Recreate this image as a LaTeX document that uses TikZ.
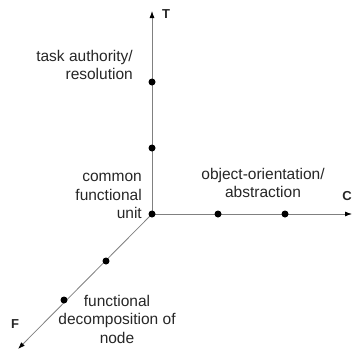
\documentclass[tikz,border=0pt]{standalone}
\usepackage{fontspec}
\setmainfont{Liberation Sans}
\usetikzlibrary{arrows.meta}
\begin{document}
\begin{tikzpicture}[x=1pt,y=-1pt,font=\fontsize{15.5}{18.5}\selectfont,
		axis/.style={draw=gray,line width=.8pt,-{Latex[length=7pt,width=5pt,black]}},
		dot/.style={circle,fill=black,inner sep=0pt,minimum size=7pt},
		lbl/.style={text=black!85,inner sep=0pt},
		axisname/.style={lbl,font=\fontsize{13}{15}\selectfont\bfseries}]
	\useasboundingbox (0,0) rectangle (355,351);
	% origin and axis ends
	\coordinate (o) at (152,214);
	\coordinate (T) at (152,11);
	\coordinate (C) at (352,214);
	\coordinate (F) at (18,349);
	\foreach \to in {T,C,F}
		\draw[axis] (o) -- (\to);
	% points on the axes
	\foreach \name/\pos in {o/{(152,214)},
							t1/{(152,148)},
							t2/{(152,82)},
							c1/{(218,214)},
							c2/{(285,214)},
							f1/{(106,261)},
							f2/{(64,300)}}
		\node[dot] (d\name) at \pos {};
	% axis names
	\node[axisname] (tT) at (166,14) {T};
	\node[axisname] (tC) at (347,196) {C};
	\node[axisname] (tF) at (15,324) {F};
	% labels
	\node[lbl,align=right,anchor=east] (task) at (133,65) {task authority/\\resolution};
	\node[lbl,align=right,anchor=east] (common) at (142,196) {common\\functional\\unit};
	\node[lbl,align=center] (object) at (263,183) {object-orientation/\\abstraction};
	\node[lbl,align=center] (decomp) at (117,319) {functional\\decomposition of\\node};
\end{tikzpicture}
\end{document}
